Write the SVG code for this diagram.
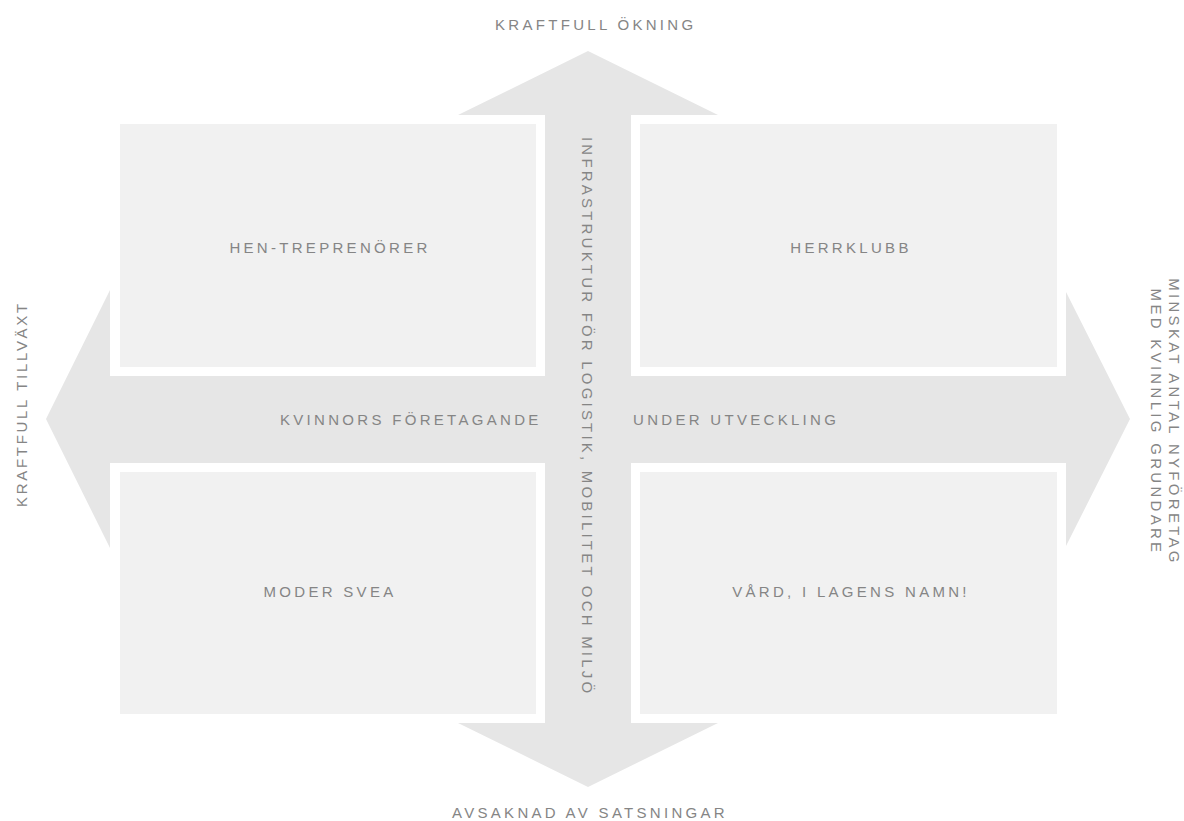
<svg xmlns="http://www.w3.org/2000/svg" width="1184" height="821" viewBox="0 0 1184 821">
<style>
  .axis { fill: #e6e6e6; }
  .box { fill: #f1f1f1; stroke: #ffffff; stroke-width: 9; }
  .t { font-family: "Liberation Sans", Arial, sans-serif; font-size: 15px; fill: #858585; letter-spacing: 3.3px; }
  .c { text-anchor: middle; }
</style>
<rect width="1184" height="821" fill="#ffffff"/>
<g id="connectors">
  <polygon class="axis" points="588,51 718,115 632,115 632,723 718,723 588,787 458,723 545,723 545,115 458,115"/>
  <polygon class="axis" points="46,419 110,290 110,376 1065,376 1065,290 1130,419 1065,548 1065,463 110,463 110,548"/>
</g>
<g id="node-hen">
  <rect class="box" x="115.5" y="119.5" width="425" height="252"/>
  <text class="t c" x="330" y="253">HEN-TREPRENÖRER</text>
</g>
<g id="node-herrklubb">
  <rect class="box" x="635.5" y="119.5" width="426" height="252"/>
  <text class="t c" x="851" y="253">HERRKLUBB</text>
</g>
<g id="node-moder">
  <rect class="box" x="115.5" y="467.5" width="425" height="251"/>
  <text class="t c" x="330" y="597">MODER SVEA</text>
</g>
<g id="node-vard">
  <rect class="box" x="635.5" y="467.5" width="426" height="251"/>
  <text class="t c" x="851" y="597">VÅRD, I LAGENS NAMN!</text>
</g>
<g id="labels">
  <text class="t" x="495" y="30">KRAFTFULL ÖKNING</text>
  <text class="t" x="452" y="818">AVSAKNAD AV SATSNINGAR</text>
  <text class="t" style="letter-spacing:2.7px" transform="translate(27,507) rotate(-90)">KRAFTFULL TILLVÄXT</text>
  <g transform="translate(1169,422) rotate(90)">
    <text class="t c" x="0" y="0">MINSKAT ANTAL NYFÖRETAG</text>
    <text class="t c" x="0" y="18.5">MED KVINNLIG GRUNDARE</text>
  </g>
  <text class="t" style="letter-spacing:3.2px" transform="translate(582,137) rotate(90)">INFRASTRUKTUR FÖR LOGISTIK, MOBILITET OCH MILJÖ</text>
  <text class="t" x="280" y="425">KVINNORS FÖRETAGANDE</text>
  <text class="t" x="633" y="425">UNDER UTVECKLING</text>
</g>
</svg>
